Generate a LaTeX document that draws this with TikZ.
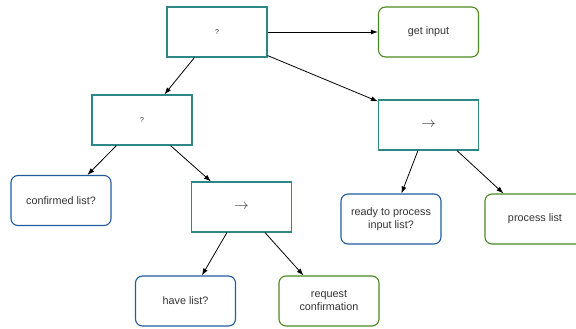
\documentclass[tikz,border=0pt]{standalone}
\usepackage{fontspec}
\setmainfont{Liberation Sans}
\usetikzlibrary{arrows.meta,calc}

\definecolor{selteal}{HTML}{2E8686}
\definecolor{condblue}{HTML}{1F5C9E}
\definecolor{actgreen}{HTML}{4A8A1E}
\definecolor{labelgray}{HTML}{333333}

\tikzset{
  ctrl/.style={draw=selteal,line width=1.1pt,minimum width=100pt,minimum height=50pt,inner sep=0pt,text=labelgray},
  cond/.style={draw=condblue,line width=1.1pt,rounded corners=7pt,minimum width=100pt,minimum height=50pt,inner sep=0pt,align=center,text=labelgray,font=\fontsize{10.8}{13}\selectfont},
  act/.style={cond,draw=actgreen},
  edge/.style={-{Latex[length=7pt,width=5pt]},line width=0.8pt}
}

\begin{document}
\begin{tikzpicture}[x=1pt,y=-1pt]
\useasboundingbox (0,0) rectangle (576,329);

% Top level
\node[ctrl,font=\fontsize{7}{8}\selectfont] (root) at (217,32) {?};
\node[act] (input) at (428.5,32) {get input};

% Left branch
\node[ctrl,font=\fontsize{7}{8}\selectfont] (sel) at (142,120) {?};
\node[cond] (confirmed) at (61,200.5) {confirmed list?};
\node[ctrl,font=\fontsize{14}{16}\selectfont] (seqa) at (241.5,207) {$\rightarrow$};
\node[cond] (have) at (185.5,301) {have list?};
\node[act] (request) at (329,301) {request\\confirmation};

% Right branch
\node[ctrl,font=\fontsize{14}{16}\selectfont] (seqb) at (428.5,125) {$\rightarrow$};
\node[cond] (ready) at (391,219) {ready to process\\input list?};
\node[act] (process) at (535,219) {process list};

% Connectors
\draw[edge] (root.east) -- (input.west);
\draw[edge] ($(root.south west)+(28,0)$) -- ($(sel.north west)+(73,0)$);
\draw[edge] ($(root.south east)+(0,-2)$) -- ($(seqb.north west)+(0,2)$);
\draw[edge] ($(sel.south west)+(25,0)$) -- ($(confirmed.north west)+(77,0)$);
\draw[edge] ($(sel.south west)+(79,0)$) -- ($(seqa.north west)+(20,0)$);
\draw[edge] ($(seqa.south west)+(36,0)$) -- ($(have.north west)+(67,0)$);
\draw[edge] ($(seqa.south west)+(74,0)$) -- ($(request.north west)+(25,0)$);
\draw[edge] ($(seqb.south west)+(40,0)$) -- ($(ready.north west)+(61,0)$);
\draw[edge] ($(seqb.south west)+(79,0)$) -- ($(process.north west)+(19,0)$);
\end{tikzpicture}
\end{document}
